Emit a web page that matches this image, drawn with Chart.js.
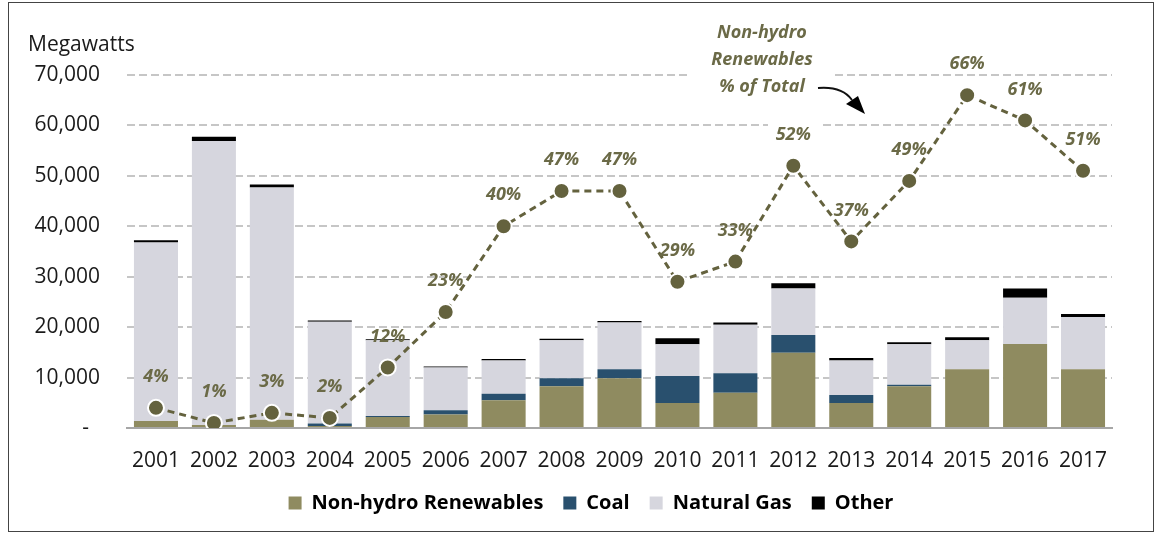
<!DOCTYPE html>
<html>
<head>
<meta charset="utf-8">
<script src="https://cdn.jsdelivr.net/npm/chart.js@4.4.1/dist/chart.umd.min.js"></script>
<style>
  html, body { margin: 0; padding: 0; background: #fff; }
  #wrap { position: relative; width: 1156px; height: 533px; }
  #frame { position: absolute; left: 8px; top: 2px; width: 1144px; height: 528px; border: 1px solid #444; pointer-events: none; }
</style>
</head>
<body>
<div id="wrap">
  <canvas id="chart" width="1156" height="533"></canvas>
  <div id="frame"></div>
</div>
<script>
// capacity additions, megawatts
const years = ['2001', '2002', '2003', '2004', '2005', '2006', '2007', '2008', '2009',
               '2010', '2011', '2012', '2013', '2014', '2015', '2016', '2017'];
const renewables = [1400, 600, 1650, 400, 2200, 2700, 5500, 8300, 9850, 4960, 7000, 14900, 4960, 8300, 11650, 16650, 11650];
const coal       = [0, 0, 0, 500, 200, 800, 1300, 1550, 1800, 5340, 3850, 3550, 1590, 300, 0, 0, 0];
const naturalGas = [35370, 56300, 46050, 20150, 15000, 8500, 6600, 7550, 9250, 6300, 9600, 9200, 6850, 8000, 5750, 9200, 10350];
const other      = [480, 850, 600, 250, 200, 200, 300, 300, 300, 1200, 450, 1050, 500, 400, 600, 1800, 600];
// non-hydro renewables share of total (%)
const renewShare = [4, 1, 3, 2, 12, 23, 40, 47, 47, 29, 33, 52, 37, 49, 66, 61, 51];

const yTicks = [0, 10000, 20000, 30000, 40000, 50000, 60000, 70000];

const olive = '#64623e';
const labelColor = '#6b6a47';

const extras = {
    id: 'extras',
    afterLayout(chart) {
        // legend sits a bit right of the canvas centre in the original
        if (chart.legend) {
            chart.legend.left += 35;
            chart.legend.right += 35;
        }
    },
    beforeDatasetsDraw(chart) {
        const c = chart.ctx;
        // text box of the annotation hides the gridlines behind it
        c.save();
        c.fillStyle = '#fff';
        c.fillRect(688, 66, 145, 16);
        c.fillRect(768, 118, 52, 16);
        c.restore();
    },
    afterDatasetsDraw(chart) {
        const c = chart.ctx;
        c.save();
        // axis title
        c.fillStyle = '#1a1a1a';
        c.font = '21px "Open Sans"';
        c.textAlign = 'left';
        c.textBaseline = 'middle';
        c.fillText('Megawatts', 28, 45);

        // share labels over the points
        const meta = chart.getDatasetMeta(4);
        c.fillStyle = labelColor;
        c.font = 'italic bold 18px "Open Sans"';
        c.textAlign = 'center';
        meta.data.forEach((pt, i) => {
            c.fillText(renewShare[i] + '%', pt.x, pt.y - 31);
        });

        // annotation
        c.fillText('Non-hydro', 762, 33);
        c.fillText('Renewables', 762, 60);
        c.fillText('% of Total', 762, 87);

        c.strokeStyle = '#111';
        c.lineWidth = 2;
        c.beginPath();
        c.moveTo(818, 88);
        c.quadraticCurveTo(842, 86, 852, 100);
        c.stroke();
        c.fillStyle = '#000';
        c.beginPath();
        c.moveTo(865, 114);
        c.lineTo(846, 104);
        c.lineTo(858, 96);
        c.closePath();
        c.fill();
        c.restore();
    }
};

const barDefaults = { stack: 'mw', borderWidth: 0, order: 1, yAxisID: 'y' };

new Chart(document.getElementById('chart'), {
    data: {
        labels: years,
        datasets: [
            { ...barDefaults, type: 'bar', label: 'Non-hydro Renewables', data: renewables, backgroundColor: '#8f8b60' },
            { ...barDefaults, type: 'bar', label: 'Coal', data: coal, backgroundColor: '#29506e' },
            { ...barDefaults, type: 'bar', label: 'Natural Gas', data: naturalGas, backgroundColor: '#d6d6de' },
            { ...barDefaults, type: 'bar', label: 'Other', data: other, backgroundColor: '#000000' },
            {
                type: 'line', label: 'share', data: renewShare, yAxisID: 'y2', order: 0,
                borderColor: olive, borderWidth: 3, borderDash: [7, 5],
                pointRadius: 8, pointBackgroundColor: olive, pointBorderColor: '#fff', pointBorderWidth: 2,
                fill: false, tension: 0
            }
        ]
    },
    options: {
        responsive: false,
        animation: false,
        devicePixelRatio: 1,
        datasets: { bar: { barPercentage: 0.76, categoryPercentage: 1 } },
        layout: { padding: { left: 0, right: 44, top: 75, bottom: 10 } },
        plugins: {
            tooltip: { enabled: false },
            title: { display: false },
            legend: {
                position: 'bottom',
                labels: {
                    filter: item => item.datasetIndex < 4,
                    boxWidth: 13, boxHeight: 13, padding: 20,
                    color: '#000',
                    font: { family: 'Open Sans', size: 20, weight: 'bold' }
                }
            }
        },
        scales: {
            x: {
                stacked: true,
                afterFit: s => { s.height = 45; },
                grid: { display: false },
                border: { display: true, color: '#a6a6a6', width: 2 },
                ticks: { color: '#1a1a1a', padding: 12, maxRotation: 0, autoSkip: false, font: { family: 'Open Sans', size: 21 } }
            },
            y: {
                stacked: true,
                min: 0, max: 70000,
                afterFit: s => { s.width = 127; },
                afterBuildTicks: s => { s.ticks = yTicks.map(v => ({ value: v })); },
                grid: { color: '#c6c6c6', lineWidth: 2, drawTicks: false },
                border: { display: false, dash: [8, 4] },
                ticks: {
                    color: '#1a1a1a', padding: 27,
                    font: { family: 'Open Sans', size: 21 },
                    callback: v => v === 0 ? '-  ' : v.toLocaleString('en-US')
                }
            },
            y2: { display: false, min: 0, max: 70 }
        }
    },
    plugins: [extras]
});
</script>
</body>
</html>
